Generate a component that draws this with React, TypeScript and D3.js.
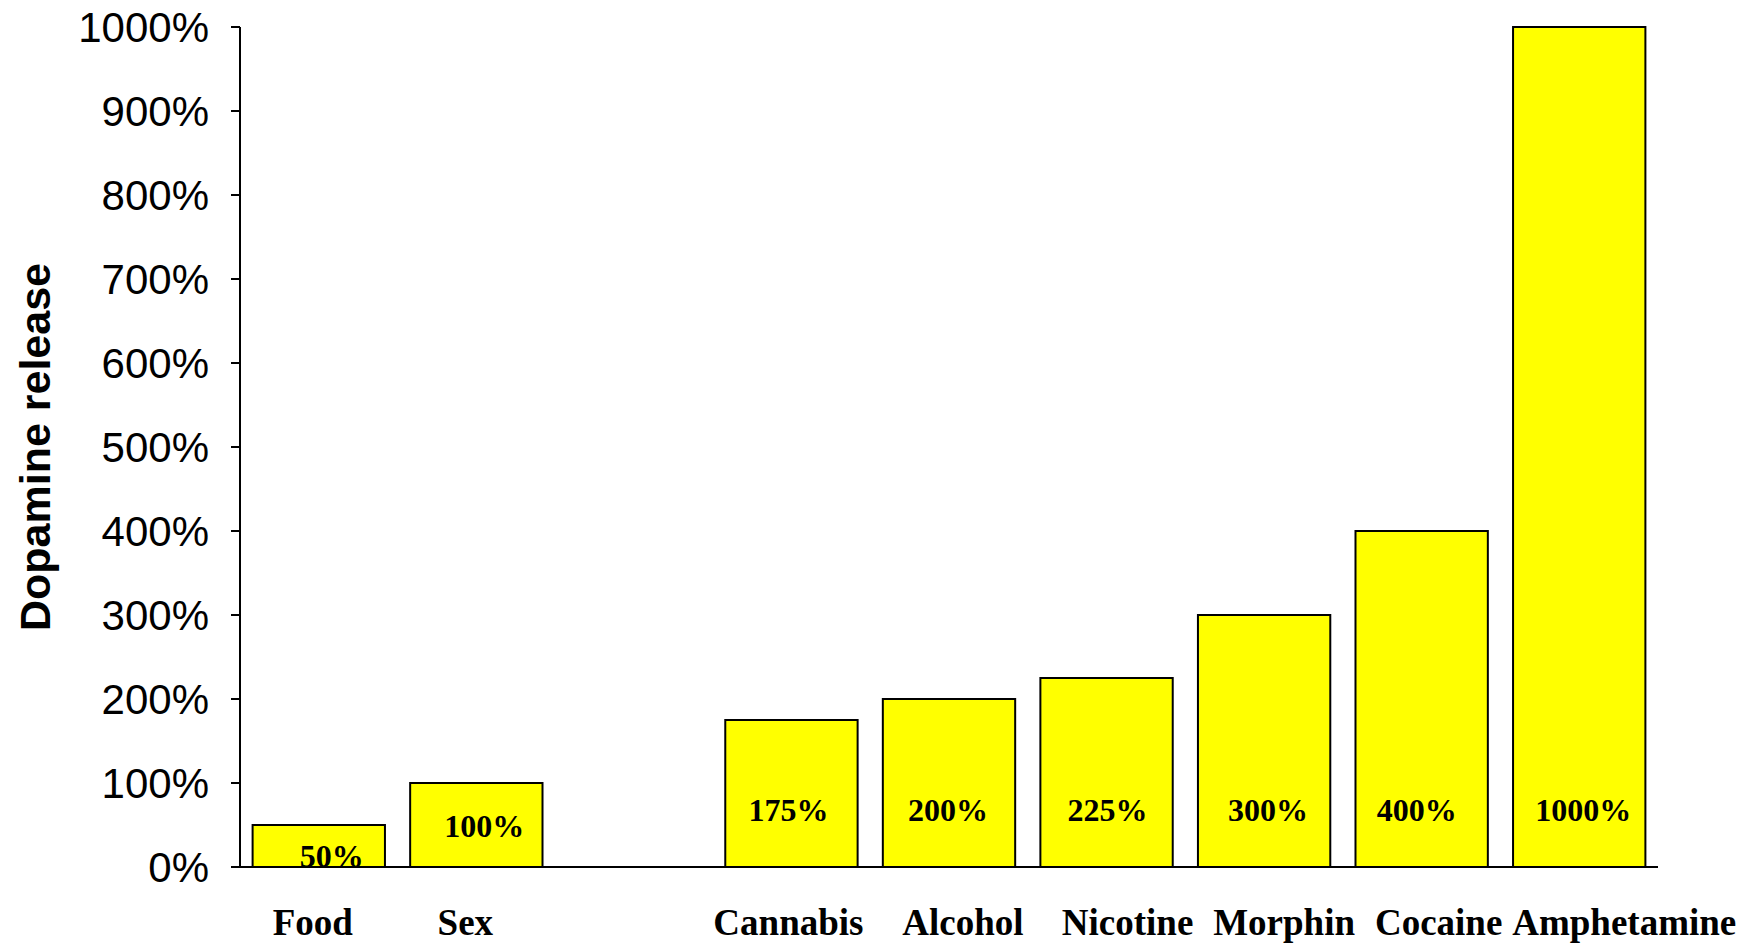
import React from "react";
import * as d3 from "d3";

// Rewards and drugs, with the dopamine release each one produces
const naturalRewards = ["Food", "Sex"];
const drugs = ["Cannabis", "Alcohol", "Nicotine", "Morphin", "Cocaine", "Amphetamine"];
const categories = [...naturalRewards, ...drugs];
const dopamineRelease = [50, 100, 175, 200, 225, 300, 400, 1000];
const yTickValues = [0, 100, 200, 300, 400, 500, 600, 700, 800, 900, 1000];
const yAxisTitle = "Dopamine release";

const W = 1758;
const H = 944;
const plot = { left: 240, right: 1658, top: 27, bottom: 867 };
const GAP = "__gap__"; // empty slot between the natural rewards and the drugs

// Hand-placed text shifts (px) for the category names and the value labels
const nameShift: Record<string, number> = {
  Food: -6, Sex: -11, Cannabis: -3, Alcohol: 14, Nicotine: 21, Morphin: 20, Cocaine: 17, Amphetamine: 45,
};
const valueShift: Record<string, number> = {
  Food: 13, Sex: 8, Cannabis: -3, Alcohol: -1, Nicotine: 1, Morphin: 4, Cocaine: -5, Amphetamine: 4,
};

const x = d3
  .scaleBand<string>()
  .domain([...naturalRewards, GAP, ...drugs])
  .range([plot.left, plot.right])
  .paddingInner(0.16)
  .paddingOuter(0.08);

const y = d3.scaleLinear().domain([0, 1000]).range([plot.bottom, plot.top]);

const sans = "'Liberation Sans', Arial, Helvetica, sans-serif";
const serif = "'Liberation Serif', 'Times New Roman', serif";

export default function App() {
  const rows = categories.map((name, i) => ({ name, value: dopamineRelease[i] }));

  return (
    <svg
      width={W}
      height={H}
      viewBox={`0 0 ${W} ${H}`}
      style={{ position: "fixed", left: 0, top: 0, display: "block", background: "#ffffff" }}
    >
      <rect x={0} y={0} width={W} height={H} fill="#ffffff" />

      {/* bars */}
      {rows.map((d) => (
        <rect
          key={`bar-${d.name}`}
          x={x(d.name)!}
          y={y(d.value)}
          width={x.bandwidth()}
          height={y(0) - y(d.value)}
          fill="#ffff00"
          stroke="#000000"
          strokeWidth={2}
        />
      ))}

      {/* value labels inside the bars */}
      {rows.map((d) => {
        const base = Math.min(y(0), Math.max(y(0) - 46, y(d.value) + 54));
        return (
          <text
            key={`val-${d.name}`}
            x={x(d.name)! + x.bandwidth() / 2 + valueShift[d.name]}
            y={base}
            textAnchor="middle"
            fontFamily={serif}
            fontWeight="bold"
            fontSize={32}
            fill="#000000"
          >
            {`${d.value}%`}
          </text>
        );
      })}

      {/* axes */}
      <line x1={plot.left} x2={plot.left} y1={y(1000)} y2={y(0)} stroke="#000" strokeWidth={2} />
      <line x1={plot.left} x2={plot.right} y1={y(0)} y2={y(0)} stroke="#000" strokeWidth={2} />
      {yTickValues.map((t) => (
        <g key={`tick-${t}`} transform={`translate(0,${y(t)})`}>
          <line x1={plot.left - 9} x2={plot.left} y1={0} y2={0} stroke="#000" strokeWidth={2} />
          <text
            x={209}
            y={0}
            dy="0.36em"
            textAnchor="end"
            fontFamily={sans}
            fontSize={42}
            fill="#000000"
          >
            {`${t}%`}
          </text>
        </g>
      ))}

      {/* category names */}
      {rows.map((d) => (
        <text
          key={`name-${d.name}`}
          x={x(d.name)! + x.bandwidth() / 2 + nameShift[d.name]}
          y={935}
          textAnchor="middle"
          fontFamily={serif}
          fontWeight="bold"
          fontSize={37}
          fill="#000000"
        >
          {d.name}
        </text>
      ))}

      {/* y axis title */}
      <text
        transform={`translate(50,447) rotate(-90)`}
        textAnchor="middle"
        fontFamily={sans}
        fontWeight="bold"
        fontSize={43}
        fill="#000000"
      >
        {yAxisTitle}
      </text>
    </svg>
  );
}
